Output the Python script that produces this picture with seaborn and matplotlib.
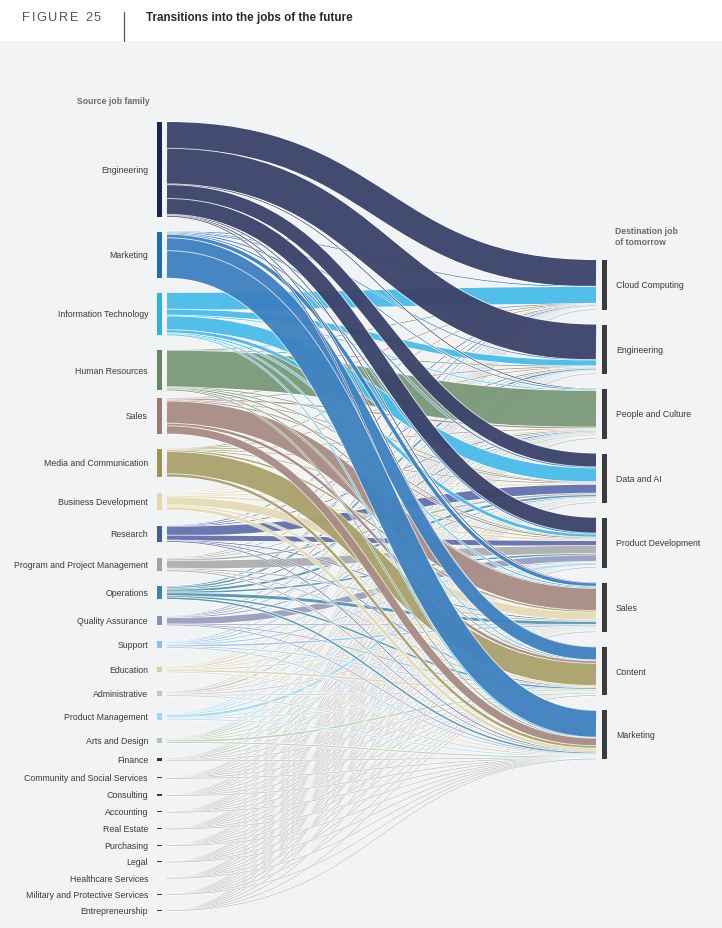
import matplotlib
matplotlib.use("Agg")
import matplotlib.pyplot as plt
from matplotlib.path import Path
from matplotlib.patches import PathPatch, Rectangle
import seaborn as sns
import numpy as np

sns.set_theme(style="white")
plt.rcParams['font.family'] = ['Liberation Sans', 'DejaVu Sans']

# ---------------- data ----------------
sources = ["Engineering", "Marketing", "Information Technology", "Human Resources",
           "Sales", "Media and Communication", "Business Development", "Research",
           "Program and Project Management", "Operations", "Quality Assurance",
           "Support", "Education", "Administrative", "Product Management",
           "Arts and Design", "Finance", "Community and Social Services",
           "Consulting", "Accounting", "Real Estate", "Purchasing", "Legal",
           "Healthcare Services", "Military and Protective Services",
           "Entrepreneurship"]

destinations = ["Cloud Computing", "Engineering", "People and Culture", "Data and AI",
                "Product Development", "Sales", "Content", "Marketing"]

# inflow into each destination from each source (same order as `sources`)
to_cloud_computing = [54, 0.5, 34, 0.5, 0.5, 0.3, 1, 0.5, 1, 2, 0.5, 1.5, 0.5, 0.5, 0.5,
                      0.3, 0.5, 0.2, 0.3, 0.2, 0.1, 0.2, 0.1, 0.1, 0.2, 0.1]
to_engineering = [72, 0.5, 12, 0.5, 0.5, 0.3, 1.5, 1, 1, 3, 1, 1.5, 0.5, 0.5, 1,
                  0.5, 0.5, 0.2, 0.3, 0.2, 0.1, 0.2, 0.1, 0.1, 0.2, 0.1]
to_people_culture = [1.5, 1.5, 1.5, 74, 2.5, 1, 2, 0.5, 1.5, 2, 0.5, 2, 2.5, 3, 0.5,
                     0.5, 0.5, 1, 0.4, 0.3, 0.3, 0.3, 0.3, 0.3, 0.1, 0.1]
to_data_ai = [28, 2, 28, 1, 1, 1, 2, 18, 3, 4, 2, 1, 1, 0.5, 2,
              1, 2, 0.2, 0.5, 0.4, 0.1, 0.2, 0.2, 0.1, 0.1, 0.1]
to_product_development = [32, 2, 6, 1, 2, 1, 3, 10, 16, 3, 13, 2, 0.5, 0.5, 5,
                          1.5, 0.5, 0.2, 0.4, 0.1, 0.1, 0.3, 0.1, 0.1, 0.1, 0.2]
to_sales = [1.5, 7, 2, 2, 45, 3, 16, 1, 2, 6, 0.5, 3, 2, 2, 1,
            1, 1.5, 0.5, 0.5, 0.3, 0.9, 0.5, 0.2, 0.1, 0.1, 0.2]
to_content = [1, 26, 1, 1, 5, 45, 3, 0.5, 1, 3, 0.3, 1.5, 3, 1, 1,
              3, 0.2, 0.4, 0.2, 0.2, 0.1, 0.1, 0.2, 0.1, 0.1, 0.1]
to_marketing = [1, 54, 1, 1, 15, 5, 6, 0.5, 2, 3, 0.3, 1, 1.5, 1, 1.5,
                2, 0.5, 0.4, 0.4, 0.2, 0.3, 0.2, 0.2, 0.1, 0.1, 0.1]

# ---------------- styles / layout ----------------
node_colors = ["#1c2452", "#1f6db6", "#2cb2e6", "#658863", "#9b7a72", "#9c9254",
               "#e2d6aa", "#4a5aa0", "#a2a2a2", "#3b86a6", "#8b8fb5", "#8ebde6",
               "#d6cfa8", "#cbbfbf", "#9fd6f0", "#b0c6aa", "#333333"] + ["#3a3a3a"] * 9
flow_colors = node_colors[:16] + ["#b8b8b8"] * 10

# vertical gaps (px) between consecutive source nodes
left_gaps = [15, 15, 15, 8, 15, 16, 16, 16, 15, 17, 16, 19, 19, 17.5, 18.5, 15, 16] + [15.7] * 8
right_gap = 15
scale = 0.495          # px per unit
left_top, right_top = 123, 261
x_src_bar = (156.5, 161.5)
x_dst_bar = (601.5, 606.5)
x0, x1 = 167, 596
W, H = 722, 929

M = np.array([to_cloud_computing, to_engineering, to_people_culture, to_data_ai,
              to_product_development, to_sales, to_content, to_marketing]).T  # sources x dests

fig = plt.figure(figsize=(W / 100, H / 100), dpi=100)
fig.patch.set_facecolor("#f2f3f4")
ax = fig.add_axes([0, 0, 1, 1])
ax.set_xlim(0, W)
ax.set_ylim(H, 0)
ax.axis("off")
ax.set_facecolor("#f2f3f4")

# header
ax.add_patch(Rectangle((0, 0), W, 42, facecolor="white", edgecolor="none", zorder=1))
ax.plot([124, 124], [12.5, 42], color="#555555", lw=0.9, zorder=2)
ax.text(146, 17.5, "Transitions into the jobs of the future", fontsize=8.4,
        fontweight="bold", color="#2a2a2a", va="center", ha="left", zorder=3)
# letter-spaced figure tag
renderer = fig.canvas.get_renderer()
xc = 22
for ch in "FIGURE 25":
    t = ax.text(xc, 17.5, ch, fontsize=9.2, color="#555555", va="center", ha="left", zorder=3)
    if ch == " ":
        wpx = 3.0
    else:
        bb = t.get_window_extent(renderer=renderer)
        wpx = bb.width
    xc += wpx + 1.7

# node layout
src_tot = M.sum(axis=1)
dst_tot = M.sum(axis=0)
src_h = src_tot * scale
dst_h = dst_tot * scale
src_y = np.zeros(len(sources))
y = left_top
for i in range(len(sources)):
    src_y[i] = y
    if i < len(left_gaps):
        y += src_h[i] + left_gaps[i]
dst_y = np.zeros(len(destinations))
y = right_top
for j in range(len(destinations)):
    dst_y[j] = y
    y += dst_h[j] + right_gap

# links
src_off = src_y.copy()
dst_off = dst_y.copy()
starts = np.zeros_like(M, dtype=float)
ends = np.zeros_like(M, dtype=float)
for i in range(len(sources)):
    for j in range(len(destinations)):
        w = M[i, j] * scale
        starts[i, j] = src_off[i] + w / 2
        src_off[i] += w
for j in range(len(destinations)):
    for i in range(len(sources)):
        w = M[i, j] * scale
        ends[i, j] = dst_off[j] + w / 2
        dst_off[j] += w

pt = 72 / 100.0
xm = (x0 + x1) / 2
z = 5
for j in range(len(destinations)):
    for i in range(len(sources)):
        w = M[i, j] * scale
        if w <= 0:
            continue
        ys, ye = starts[i, j], ends[i, j]
        path = Path([(x0, ys), (xm, ys), (xm, ye), (x1, ye)],
                    [Path.MOVETO, Path.CURVE4, Path.CURVE4, Path.CURVE4])
        casing = PathPatch(path, fill=False, edgecolor=(1, 1, 1, 0.75),
                           lw=(w + 1.8) * pt, capstyle="butt", zorder=z)
        ax.add_patch(casing)
        rgb = matplotlib.colors.to_rgb(flow_colors[i])
        stroke = PathPatch(path, fill=False, edgecolor=(*rgb, 0.82),
                           lw=max(w, 0.75) * pt, capstyle="butt", zorder=z + 0.5)
        ax.add_patch(stroke)
        z += 1

# nodes
for i, name in enumerate(sources):
    h = max(src_h[i], 0.8)
    cy = src_y[i] + src_h[i] / 2
    ax.add_patch(Rectangle((x_src_bar[0], cy - h / 2), x_src_bar[1] - x_src_bar[0], h,
                           facecolor=node_colors[i], edgecolor="none", zorder=z + 1))
    ax.text(148, cy, name, fontsize=6.3, color="#3a3a3a", ha="right", va="center",
            zorder=z + 2)
for j, name in enumerate(destinations):
    ax.add_patch(Rectangle((x_dst_bar[0], dst_y[j]), x_dst_bar[1] - x_dst_bar[0], dst_h[j],
                           facecolor="#3b3b3b", edgecolor="none", zorder=z + 1))
    ax.text(616, dst_y[j] + dst_h[j] / 2, name, fontsize=6.3, color="#3a3a3a",
            ha="left", va="center", zorder=z + 2)

ax.text(150, 101, "Source job family", fontsize=6.2, fontweight="bold", color="#6a6a6a",
        ha="right", va="center")
ax.text(615, 231, "Destination job", fontsize=6.2, fontweight="bold", color="#6a6a6a",
        ha="left", va="center")
ax.text(615, 242.5, "of tomorrow", fontsize=6.2, fontweight="bold", color="#6a6a6a",
        ha="left", va="center")

fig.savefig("out.png", dpi=100, facecolor=fig.get_facecolor())
